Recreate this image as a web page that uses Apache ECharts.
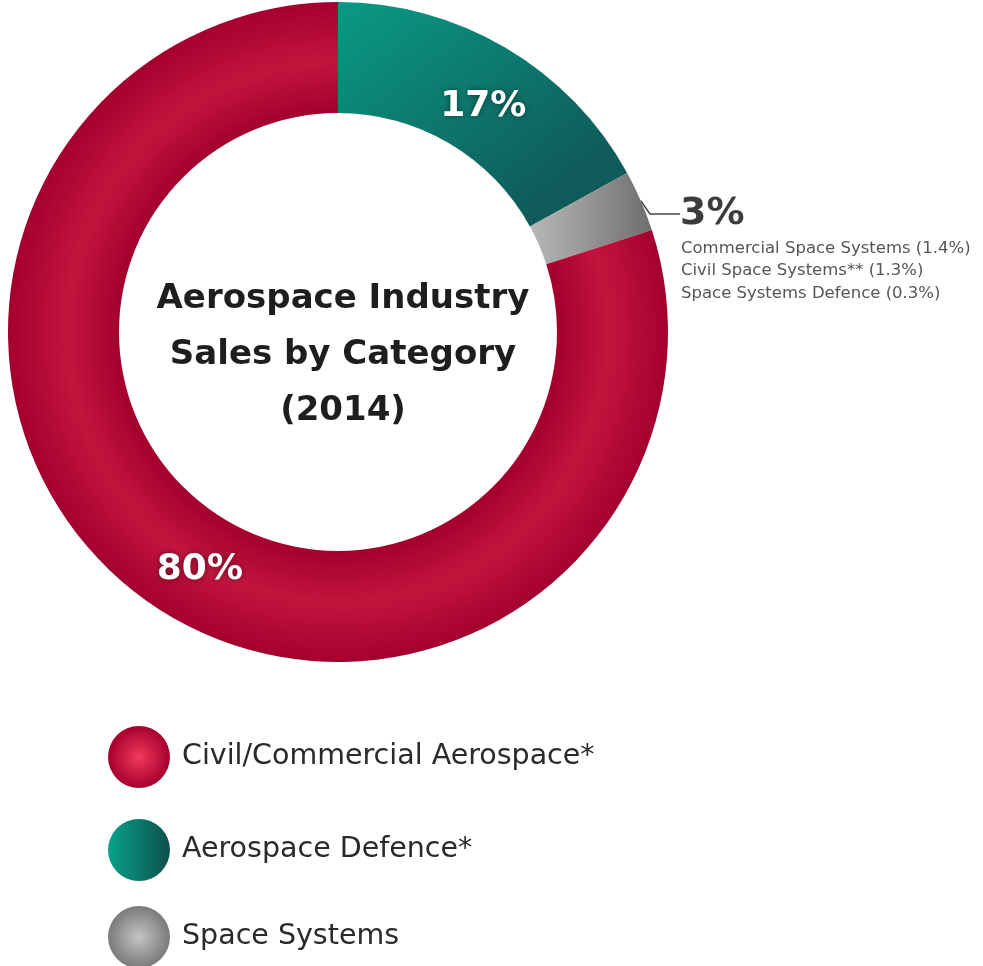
<!DOCTYPE html>
<html>
<head>
<meta charset="utf-8">
<script src="https://cdn.jsdelivr.net/npm/echarts@6/dist/echarts.min.js"></script>
<style>
html,body{margin:0;padding:0;background:#fff;}
#chart{width:983px;height:966px;}
</style>
</head>
<body>
<div id="chart"></div>
<script>
const categories = ['Aerospace Defence*', 'Space Systems', 'Civil/Commercial Aerospace*'];
const values = [17, 3, 80];
const legendOrder = ['Civil/Commercial Aerospace*', 'Aerospace Defence*', 'Space Systems'];
const spaceBreakdown = ['Commercial Space Systems (1.4%)', 'Civil Space Systems** (1.3%)', 'Space Systems Defence (0.3%)'];
const titleLines = ['Aerospace Industry', 'Sales by Category', '(2014)'];

const FONT = 'DejaVu Sans';
const G = echarts.graphic;
const cx = 338, cy = 332, rOut = 330, rIn = 219;

const ringRed = new G.RadialGradient(cx, cy, rOut, [
  {offset: 0.66, color: '#a3002e'},
  {offset: 0.82, color: '#c2153d'},
  {offset: 1, color: '#a4002f'}
], true);
const ringGreen = new G.LinearGradient(0, 0, 0.6, 1, [
  {offset: 0, color: '#0a9a84'},
  {offset: 1, color: '#0f5b59'}
]);
const ringGray = new G.LinearGradient(0, 0, 1, 0, [
  {offset: 0, color: '#b8b8b8'},
  {offset: 1, color: '#6e6e6e'}
]);
const legRed = new G.RadialGradient(0.5, 0.5, 0.5, [
  {offset: 0, color: '#f23a5b'},
  {offset: 1, color: '#a6002f'}
]);
const legGreen = new G.LinearGradient(0, 0, 1, 0, [
  {offset: 0, color: '#09a28a'},
  {offset: 1, color: '#0e4f4c'}
]);
const legGray = new G.RadialGradient(0.5, 0.5, 0.5, [
  {offset: 0, color: '#c4c4c4'},
  {offset: 1, color: '#7a7a7a'}
]);

const ringColors = [ringGreen, ringGray, ringRed];
const legColors = {'Civil/Commercial Aerospace*': legRed, 'Aerospace Defence*': legGreen, 'Space Systems': legGray};
const legendTops = [726, 819, 906];

const bigLabel = {show: true, position: 'inside', color: '#fff', fontFamily: FONT, fontWeight: 'bold', fontSize: 36,
  textShadowColor: 'rgba(0,0,0,0.45)', textShadowBlur: 6, formatter: '{c}%'};

const data = categories.map((name, i) => {
  const d = {name, value: values[i], itemStyle: {color: ringColors[i]}};
  if (i === 1) {
    d.label = {
      show: true, position: 'outside', alignTo: 'none', formatter: '{c}%',
      fontFamily: FONT, fontWeight: 'bold', fontSize: 38, color: '#3c3c3c'
    };
    d.labelLine = {show: true, length: 0, length2: 30, lineStyle: {color: '#444', width: 1.5}};
  } else {
    d.label = bigLabel;
    d.labelLine = {show: false};
  }
  return d;
});

const chart = echarts.init(document.getElementById('chart'), null, {renderer: 'canvas'});
chart.setOption({
  backgroundColor: '#fff',
  animation: false,
  title: [{
    text: titleLines.join('\n'),
    left: cx, top: 266, textAlign: 'center',
    textStyle: {fontFamily: FONT, fontWeight: 'bold', fontSize: 34, color: '#1e1e1e', lineHeight: 56}
  }, {
    text: spaceBreakdown.join('\n'),
    left: 676, top: 232,
    textStyle: {fontFamily: FONT, fontWeight: 'normal', fontSize: 16.5, color: '#555', lineHeight: 22.5}
  }],
  legend: legendOrder.map((n, i) => ({
    orient: 'vertical', left: 108, top: legendTops[i],
    icon: 'circle', itemWidth: 76, itemHeight: 62, padding: 0, symbolKeepAspect: true,
    textStyle: {fontFamily: FONT, fontSize: 28.5, color: '#2a2a2a'},
    data: [{name: n, itemStyle: {color: legColors[n]}}],
    selectedMode: false
  })),
  series: [{
    type: 'pie',
    center: [cx, cy],
    radius: [rIn, rOut],
    startAngle: 90,
    clockwise: true,
    avoidLabelOverlap: false,
    silent: true,
    labelLayout: function (p) {
      if (p.dataIndex === 1) return {x: 680, y: 214, align: 'left', verticalAlign: 'middle'};
      if (p.dataIndex === 0) return {dx: 4, dy: 13};
      if (p.dataIndex === 2) return {dx: 25, dy: 13};
      return {};
    },
    data: data
  }]
});
</script>
</body>
</html>
